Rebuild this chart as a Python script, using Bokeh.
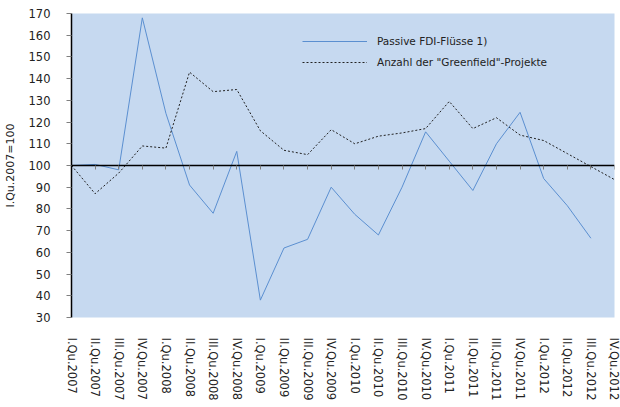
from bokeh.plotting import figure
from bokeh.models import Range1d, FixedTicker, LinearAxis, Legend, LegendItem
from bokeh.embed import file_html
from bokeh.resources import INLINE

quarters = [
    "I.Qu.2007", "II.Qu.2007", "III.Qu.2007", "IV.Qu.2007",
    "I.Qu.2008", "II.Qu.2008", "III.Qu.2008", "IV.Qu.2008",
    "I.Qu.2009", "II.Qu.2009", "III.Qu.2009", "IV.Qu.2009",
    "I.Qu.2010", "II.Qu.2010", "III.Qu.2010", "IV.Qu.2010",
    "I.Qu.2011", "II.Qu.2011", "III.Qu.2011", "IV.Qu.2011",
    "I.Qu.2012", "II.Qu.2012", "III.Qu.2012", "IV.Qu.2012",
]
fdi = [100, 100.5, 98, 168, 124, 91, 78, 106.5, 38, 62, 66, 90,
       77.5, 68, 90, 115.5, 102, 88.5, 110, 124.5, 94, 81.5, 66.5]
greenfield = [100, 87, 96.5, 109, 108, 143, 134, 135, 116, 107, 105, 116.5,
              110, 113.5, 115, 117, 129.5, 117, 122, 114, 111.5, 105.5, 99.5, 93.5]
y_ticks = list(range(30, 171, 10))
base_value = 100
fdi_label = "Passive FDI-Flüsse 1)"
gf_label = 'Anzahl der "Greenfield"-Projekte'
y_title = "I.Qu.2007=100"

FONT = "DejaVu Sans"
idx = list(range(len(quarters)))

p = figure(width=620, height=407, output_backend="svg", toolbar_location=None,
           x_range=Range1d(0, len(quarters) - 1), y_range=Range1d(y_ticks[0], y_ticks[-1]),
           min_border_left=71, min_border_right=6, min_border_top=13, min_border_bottom=90)
p.background_fill_color = "#C6D9F0"
p.border_fill_color = "white"
p.outline_line_color = None
p.xgrid.visible = False
p.ygrid.visible = False

# x axis drawn at the index base (100): line + ticks only
xa = p.xaxis[0]
xa.fixed_location = base_value
xa.ticker = FixedTicker(ticks=idx)
xa.major_label_text_color = None
xa.major_label_text_alpha = 0
xa.major_label_text_font_size = "1px"
xa.major_label_standoff = 0
xa.major_tick_in = 0
xa.major_tick_out = 4
xa.major_tick_line_color = "#7f7f7f"
xa.minor_tick_line_color = None
xa.axis_line_color = "black"
xa.axis_line_width = 1.5

# label axis at the bottom
la = LinearAxis(ticker=FixedTicker(ticks=idx),
                major_label_overrides={i: q for i, q in zip(idx, quarters)},
                major_label_orientation="vertical",
                axis_line_color=None, major_tick_line_color=None, minor_tick_line_color=None,
                major_tick_in=0, major_tick_out=0,
                major_label_standoff=20,
                major_label_text_font=FONT, major_label_text_font_size="11.5px",
                major_label_text_color="#222222")
p.add_layout(la, "below")

ya = p.yaxis[0]
ya.ticker = FixedTicker(ticks=y_ticks)
ya.axis_line_color = "black"
ya.axis_line_width = 1.5
ya.major_tick_in = 0
ya.major_tick_out = 5
ya.major_tick_line_color = "#7f7f7f"
ya.minor_tick_line_color = None
ya.major_label_standoff = 16
ya.major_label_text_font = FONT
ya.major_label_text_font_size = "11.5px"
ya.major_label_text_color = "#222222"
ya.axis_label = y_title
ya.axis_label_text_font = FONT
ya.axis_label_text_font_size = "11px"
ya.axis_label_text_font_style = "normal"
ya.axis_label_text_color = "#222222"
ya.axis_label_standoff = 9

r1 = p.line(x=list(range(len(fdi))), y=fdi, line_color="#5B8FD0", line_width=1)
r2 = p.line(x=list(range(len(greenfield))), y=greenfield, line_color="#222222",
            line_width=1, line_dash="2 2")

legend = Legend(items=[LegendItem(label=fdi_label, renderers=[r1]),
                       LegendItem(label=gf_label, renderers=[r2])],
                location=(231, 246), glyph_width=65, glyph_height=18, label_height=18,
                spacing=3, padding=0, margin=0, label_standoff=10,
                border_line_color=None, background_fill_alpha=0,
                label_text_font=FONT, label_text_font_size="10.5px",
                label_text_color="#222222")
p.add_layout(legend)

open("out.html", "w").write(file_html(p, INLINE))
